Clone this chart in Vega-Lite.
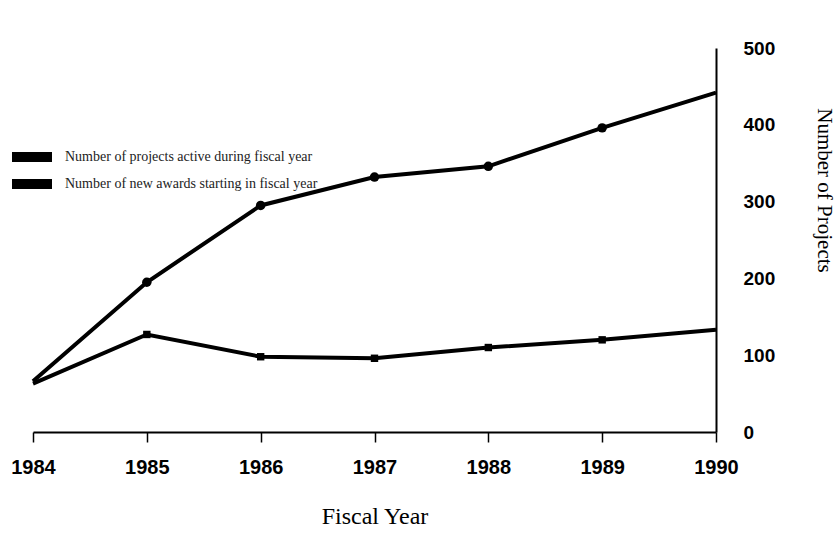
{
  "$schema": "https://vega.github.io/schema/vega-lite/v6.json",
  "width": 683,
  "height": 384,
  "autosize": {"type": "none"},
  "padding": {"left": 33, "top": 48, "right": 122, "bottom": 104},
  "background": "white",
  "data": {
    "values": [
      {"year": 1984, "series": "Number of projects active during fiscal year", "value": 66},
      {"year": 1985, "series": "Number of projects active during fiscal year", "value": 195},
      {"year": 1986, "series": "Number of projects active during fiscal year", "value": 295},
      {"year": 1987, "series": "Number of projects active during fiscal year", "value": 332},
      {"year": 1988, "series": "Number of projects active during fiscal year", "value": 346},
      {"year": 1989, "series": "Number of projects active during fiscal year", "value": 396},
      {"year": 1990, "series": "Number of projects active during fiscal year", "value": 442},
      {"year": 1984, "series": "Number of new awards starting in fiscal year", "value": 63},
      {"year": 1985, "series": "Number of new awards starting in fiscal year", "value": 127},
      {"year": 1986, "series": "Number of new awards starting in fiscal year", "value": 98},
      {"year": 1987, "series": "Number of new awards starting in fiscal year", "value": 96},
      {"year": 1988, "series": "Number of new awards starting in fiscal year", "value": 110},
      {"year": 1989, "series": "Number of new awards starting in fiscal year", "value": 120},
      {"year": 1990, "series": "Number of new awards starting in fiscal year", "value": 133}
    ]
  },
  "encoding": {
    "x": {
      "field": "year",
      "type": "quantitative",
      "scale": {"domain": [1984, 1990], "nice": false, "zero": false},
      "axis": {
        "values": [1984, 1985, 1986, 1987, 1988, 1989, 1990],
        "format": "d",
        "title": "Fiscal Year",
        "grid": false,
        "domainColor": "black",
        "domainWidth": 2,
        "tickColor": "black",
        "tickWidth": 1.5,
        "tickSize": 10,
        "labelFont": "Liberation Sans",
        "labelFontWeight": "bold",
        "labelFontSize": 20,
        "labelColor": "black",
        "labelPadding": 15,
        "labelFlush": false,
        "titleFont": "Liberation Serif",
        "titleFontSize": 24,
        "titleFontWeight": "normal",
        "titleColor": "black",
        "titlePadding": 27
      }
    },
    "y": {
      "field": "value",
      "type": "quantitative",
      "scale": {"domain": [0, 500], "nice": false},
      "axis": {
        "orient": "right",
        "values": [0, 100, 200, 300, 400, 500],
        "title": "Number of Projects",
        "grid": false,
        "ticks": false,
        "domainColor": "black",
        "domainWidth": 2,
        "labelFont": "Liberation Sans",
        "labelFontWeight": "bold",
        "labelFontSize": 19,
        "labelColor": "black",
        "labelPadding": 27,
        "labelFlush": false,
        "titleFont": "Liberation Serif",
        "titleFontSize": 21,
        "titleFontWeight": "normal",
        "titleColor": "black",
        "titleAngle": 90,
        "titleAlign": "center",
        "titleBaseline": "middle",
        "titleX": 107,
        "titleY": 142
      }
    }
  },
  "layer": [
    {
      "mark": {"type": "line", "strokeWidth": 4, "strokeCap": "butt"},
      "encoding": {
        "color": {
          "field": "series",
          "type": "nominal",
          "scale": {
            "domain": ["Number of projects active during fiscal year", "Number of new awards starting in fiscal year"],
            "range": ["black", "black"]
          },
          "legend": {
            "title": null,
            "orient": "none",
            "legendX": -21,
            "legendY": 89,
            "padding": 0,
            "symbolType": "M-1,-0.25H1V0.25H-1Z",
            "symbolSize": 1600,
            "symbolFillColor": "black",
            "symbolStrokeColor": "black",
            "symbolStrokeWidth": 0,
            "rowPadding": -12,
            "labelOffset": 13,
            "labelFont": "Liberation Serif",
            "labelFontSize": 14,
            "labelColor": "#222",
            "labelLimit": 400
          }
        }
      }
    },
    {
      "transform": [{"filter": "datum.year > 1984 && datum.year < 1990"}],
      "mark": {"type": "point", "filled": true, "opacity": 1, "color": "black"},
      "encoding": {
        "shape": {
          "condition": {"test": "datum.series === 'Number of projects active during fiscal year'", "value": "circle"},
          "value": "square"
        },
        "size": {
          "condition": {"test": "datum.series === 'Number of projects active during fiscal year'", "value": 90},
          "value": 55
        }
      }
    }
  ],
  "config": {"view": {"stroke": null}}
}
